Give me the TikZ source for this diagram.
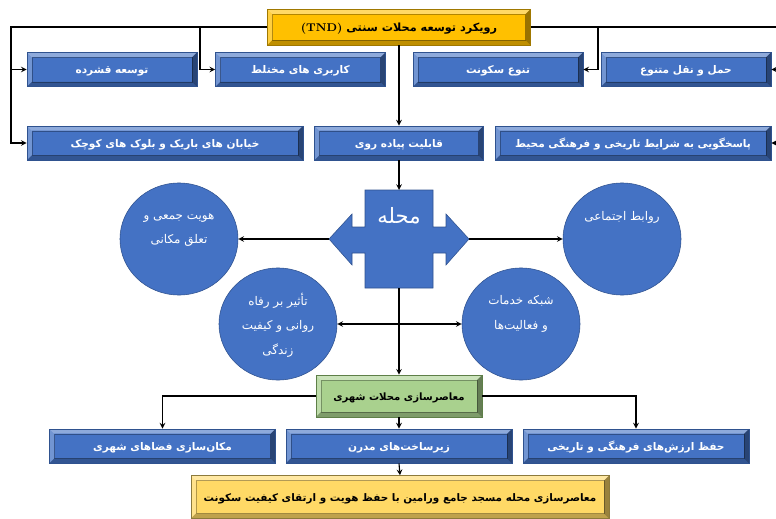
\documentclass[tikz,border=0pt]{standalone}
\usepackage{fontspec}
\usepackage{tikz}
\usetikzlibrary{shapes.geometric, calc, positioning}
\TeXXeTstate=1
\newfontfamily\farsi[Script=Arabic]{DejaVu Sans}
\newcommand{\fa}[1]{{\farsi\beginR #1\endR}}
\definecolor{boxblue}{HTML}{4472C4}
\definecolor{boxblueline}{HTML}{2F528F}
\definecolor{tndgold}{HTML}{FFC000}
\definecolor{tndline}{HTML}{A07800}
\definecolor{modgreen}{HTML}{A9D18E}
\definecolor{modline}{HTML}{5E7F48}
\definecolor{goalyellow}{HTML}{FFD966}
\definecolor{goalline}{HTML}{8C7A3C}

\begin{document}
\begin{tikzpicture}[x=0.025cm, y=-0.025cm, >=stealth,
    bevel/.style={path picture={
        \coordinate (bsw) at (path picture bounding box.south west);
        \coordinate (bne) at (path picture bounding box.north east);
        \coordinate (bnw) at (path picture bounding box.north west);
        \coordinate (bse) at (path picture bounding box.south east);
        \coordinate (isw) at ([shift={(3.5pt,3.5pt)}]bsw);
        \coordinate (ine) at ([shift={(-3.5pt,-3.5pt)}]bne);
        \coordinate (inw) at ([shift={(3.5pt,-3.5pt)}]bnw);
        \coordinate (ise) at ([shift={(-3.5pt,3.5pt)}]bse);
        \fill[white, opacity=0.4] (bnw) -- (bne) -- (ine) -- (inw) -- cycle;
        \fill[white, opacity=0.25] (bnw) -- (inw) -- (isw) -- (bsw) -- cycle;
        \fill[black, opacity=0.25] (bsw) -- (isw) -- (ise) -- (bse) -- cycle;
        \fill[black, opacity=0.4] (bse) -- (ise) -- (ine) -- (bne) -- cycle;
        \draw[black, opacity=0.3, line width=0.3pt] (isw) rectangle (ine);
    }},
    box/.style={draw=boxblueline, fill=boxblue, bevel, text=white, inner sep=0pt,
        text height=1.5ex, text depth=0.1ex,
        minimum height=0.86cm, font=\farsi\bfseries\fontsize{7.5}{9}\selectfont},
    narrow/.style={box, minimum width=4.25cm},
    wide/.style={box, minimum width=6.9cm},
    mid/.style={box, minimum width=5.65cm},
    tndbox/.style={draw=tndline, fill=tndgold, bevel, text=black, inner sep=0pt,
        text height=1.6ex, text depth=0.2ex,
        minimum width=6.575cm, minimum height=0.9cm, font=\farsi\bfseries\fontsize{8}{10}\selectfont},
    modbox/.style={draw=modline, fill=modgreen, bevel, text=black, inner sep=0pt,
        text height=1.5ex, text depth=0.1ex,
        minimum width=4.15cm, minimum height=1.05cm, font=\farsi\bfseries\fontsize{7.2}{9}\selectfont},
    goalbox/.style={draw=goalline, fill=goalyellow, bevel, text=black, inner sep=0pt,
        text height=1.5ex, text depth=0.1ex,
        minimum width=10.45cm, minimum height=1.075cm, font=\farsi\bfseries\fontsize{7.4}{9}\selectfont},
    bubble/.style={ellipse, draw=boxblueline, fill=boxblue, inner sep=0pt,
        minimum width=2.95cm, minimum height=2.8cm},
    bubbletext/.style={text=white, align=center, font=\farsi\fontsize{8.5}{17.5}\selectfont},
    link/.style={->, line width=0.8pt}
  ]
    \useasboundingbox (0,0) rectangle (776,519);
    \clip (0,0) rectangle (776,519);

    % Draw the approach box at the top
    \node[tndbox] (tnd) at (399,27) {{\rmfamily\bfseries (TND)}\ \fa{رویکرد توسعه محلات سنتی}};

    % Draw the principles
    \node[narrow] (qashorde) at (112,69.5) {\fa{توسعه قشرده}};
    \node[narrow] (karbari) at (300.5,69.5) {\fa{کاربری های مختلط}};
    \node[narrow] (tanavo) at (498,69.5) {\fa{تنوع سکونت}};
    \node[narrow] (haml) at (686,69.5) {\fa{حمل و نقل متنوع}};
    \node[wide] (khiaban) at (165,143) {\fa{خیابان های باریک و بلوک های کوچک}};
    \node[narrow, minimum width=4.225cm] (piadeh) at (399,143) {\fa{قابلیت پیاده روی}};
    \node[wide] (pasokh) at (633,143) {\fa{پاسخگویی به شرایط تاریخی و فرهنگی محیط}};

    % Draw the neighbourhood shape
    \fill[boxblue, draw=boxblueline, line width=0.4pt] (365,190) -- (433,190) -- (433,227) -- (446,227)
        -- (446,214) -- (469,239) -- (446,265) -- (446,253) -- (433,253) -- (433,288)
        -- (365,288) -- (365,253) -- (352,253) -- (352,265) -- (329,239) -- (352,214)
        -- (352,227) -- (365,227) -- cycle;
    \node[text=white, font=\farsi\fontsize{15}{18}\selectfont] (mahalle) at (399,216) {\fa{محله}};
    \coordinate (mtop) at (399,190);
    \coordinate (mbot) at (399,288);
    \coordinate (mleft) at (329,239);
    \coordinate (mright) at (469,239);

    % Draw the outcomes
    \node[bubble] (hoviat) at (179,239) {};
    \node[bubbletext] (hoviat-t) at (179,230) {\fa{هویت جمعی و}\\\fa{تعلق مکانی}};
    \node[bubble] (ravabet) at (622,239) {};
    \node[bubbletext] (ravabet-t) at (622,217) {\fa{روابط اجتماعی}};
    \node[bubble] (tasir) at (278,324) {};
    \node[bubbletext] (tasir-t) at (278,325) {\fa{تأثیر بر رفاه}\\\fa{روانی و کیفیت}\\\fa{زندگی}};
    \node[bubble] (shabake) at (521,324) {};
    \node[bubbletext] (shabake-t) at (521,314) {\fa{شبکه خدمات}\\\fa{و فعالیت‌ها}};

    % Draw the modernisation boxes
    \node[modbox] (modern) at (399,396) {\fa{معاصرسازی محلات شهری}};
    \node[mid] (makan) at (162.5,446) {\fa{مکان‌سازی فضاهای شهری}};
    \node[mid] (zirsakht) at (399,446) {\fa{زیرساخت‌های مدرن}};
    \node[mid] (hefz) at (636,446) {\fa{حفظ ارزش‌های فرهنگی و تاریخی}};
    \node[goalbox] (goal) at (400,497) {\fa{معاصرسازی محله مسجد جامع ورامین با حفظ هویت و ارتقای کیفیت سکونت}};

    % Arrows from the approach to the principles
    \coordinate (lbus) at (11,27);
    \coordinate (lfork) at (200,27);
    \coordinate (rfork) at (598,27);
    \coordinate (rbus) at (781,27);
    \draw[link] (tnd.west) -- (lbus) |- (khiaban.west);
    \draw[link] (lbus |- qashorde.west) -- (qashorde.west);
    \draw[link] (lfork) |- (karbari.west);
    \draw[link] (tnd.east) -- (rbus) |- (pasokh.east);
    \draw[link] (rbus |- haml.east) -- (haml.east);
    \draw[link] (rfork) |- (tanavo.east);
    \draw[link] (tnd.south) -- (piadeh.north);
    \draw[link] (piadeh.south) -- (mtop);

    % Arrows from the neighbourhood to the outcomes
    \draw[link] (mleft) -- (hoviat);
    \draw[link] (mright) -- (ravabet);
    \draw[link, <->] (tasir) -- (shabake);
    \draw[link] (mbot) -- (modern.north);

    % Arrows from the modernisation box
    \draw[link] (modern.west) -| (makan.north);
    \draw[link] (modern.east) -| (hefz.north);
    \draw[link] (modern.south) -- (zirsakht.north);
    \draw[link] (zirsakht.south) -- (goal.north);

\end{tikzpicture}
\end{document}
